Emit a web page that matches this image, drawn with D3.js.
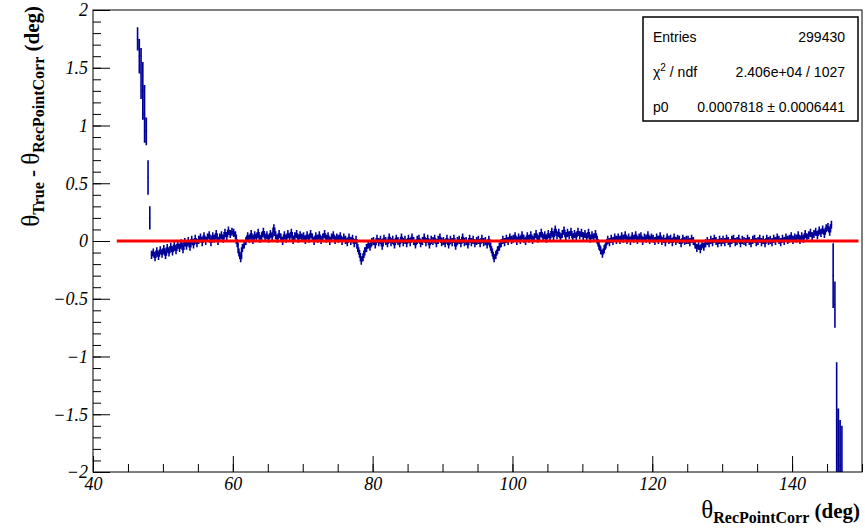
<!DOCTYPE html>
<html>
<head>
<meta charset="utf-8">
<script src="https://cdn.jsdelivr.net/npm/d3@7"></script>
<style>
	body { margin: 0; background: #fff; }
	svg { display: block; }
</style>
</head>
<body>
<svg id="chart" width="865" height="532"></svg>
<script>
// DATA
const xTicks = [40, 60, 80, 100, 120, 140];
const xMinorTicks = d3.range(40, 151, 5);
const yTicks = [-2, -1.5, -1, -0.5, 0, 0.5, 1, 1.5, 2];
const yMinorTicks = d3.range(-20, 21).map(d => d / 10);

// profile bins, 0.25 deg wide, starting at 46.25 deg
const binStart = 46.25;
const binWidth = 0.25;

const spikeLowValues = [1.75, 1.6, 1.45, 1.3, 1.1, 0.95, 0.55, 0.2];
const spikeLowErrors = [0.1, 0.15, 0.22, 0.25, 0.25, 0.12, 0.15, 0.1];

const mainValues = [
	-0.12, -0.1, -0.14, -0.09, -0.13, -0.08, -0.11,
	-0.07, -0.12, -0.06, -0.1, -0.05, -0.09, -0.04, -0.08, -0.03, -0.06, -0.02, -0.07, -0.01, -0.04, 0.0, -0.05, 0.01, -0.03, 0.02, -0.02,
	0.01, 0.03, -0.01, 0.04, 0.0, 0.03, 0.05, -0.01, 0.04, 0.02, 0.06, 0.0, 0.03, 0.05, 0.02, 0.07, 0.04, 0.09, 0.06, 0.08,
	0.07, 0.05, -0.02, -0.1, -0.15, -0.06, -0.03, 0.0, 0.04, 0.02, 0.06, 0.01, 0.05, 0.03, 0.07, 0.02, 0.04, 0.08, 0.03, 0.05,
	0.02, 0.06, 0.04, 0.11, 0.05, 0.02, 0.06, 0.03, 0.0, 0.05, 0.02, 0.06, 0.03, 0.07, 0.01, 0.04, 0.06, 0.02, 0.05, 0.03,
	0.04, 0.01, 0.05, 0.02, 0.06, 0.03, 0.0, 0.04, 0.02, 0.05, 0.01, 0.03, 0.06, 0.02, 0.04, 0.0, 0.03, 0.05, 0.01, 0.03,
	0.02, 0.04, 0.0, 0.03, 0.01, -0.01, 0.03, 0.0, 0.02, -0.02, 0.01, -0.06, -0.11, -0.17, -0.14, -0.09, -0.06, -0.03, -0.05, -0.01,
	0.0, -0.03, 0.02, -0.01, 0.01, -0.04, 0.02, 0.0, -0.02, 0.03, -0.01, 0.01, -0.03, 0.02, 0.0, -0.02, 0.03, -0.01, 0.01, -0.02,
	0.02, -0.01, 0.03, 0.0, -0.03, 0.01, 0.02, -0.02, 0.0, 0.03, -0.01, 0.02, -0.03, 0.01, 0.0, 0.02, -0.02, 0.01, 0.03, -0.01,
	0.0, -0.02, 0.02, -0.03, 0.01, -0.01, 0.02, -0.04, 0.0, 0.01, -0.02, 0.03, -0.01, 0.0, -0.03, 0.02, -0.01, 0.01, -0.02, 0.0,
	0.01, -0.02, 0.02, -0.01, 0.0, -0.03, 0.01, -0.05, -0.1, -0.15, -0.12, -0.08, -0.05, -0.02, 0.01, -0.01, 0.02, 0.0, 0.03, 0.01,
	0.02, 0.04, 0.0, 0.03, 0.01, 0.05, 0.02, 0.0, 0.04, 0.02, 0.05, 0.01, 0.03, 0.06, 0.02, 0.04, 0.07, 0.03, 0.05, 0.02,
	0.06, 0.03, 0.08, 0.04, 0.1, 0.05, 0.07, 0.03, 0.06, 0.09, 0.04, 0.07, 0.05, 0.08, 0.03, 0.06, 0.04, 0.08, 0.05, 0.07,
	0.04, 0.06, 0.03, 0.07, 0.02, 0.05, 0.03, 0.06, 0.01, -0.04, -0.08, -0.11, -0.07, -0.03, 0.01, -0.01, 0.02, 0.0, 0.03, 0.01,
	0.03, 0.01, 0.04, 0.02, 0.05, 0.01, 0.03, 0.0, 0.04, 0.02, 0.05, 0.01, 0.03, 0.04, 0.0, 0.03, 0.02, 0.05, 0.01, 0.03,
	0.02, 0.0, 0.03, 0.01, 0.04, 0.0, 0.02, -0.01, 0.03, 0.01, 0.02, -0.01, 0.03, 0.0, 0.02, 0.01, -0.02, 0.02, 0.0, 0.01,
	0.01, -0.01, 0.02, 0.0, -0.03, -0.06, -0.04, -0.07, -0.03, -0.05, -0.02, 0.0, -0.02, 0.01, -0.01, 0.02, 0.0, -0.02, 0.01, -0.01,
	0.01, -0.01, 0.02, 0.0, -0.02, 0.01, 0.02, -0.01, 0.0, 0.02, -0.02, 0.01, 0.0, -0.01, 0.02, 0.0, -0.02, 0.01, 0.02, -0.01,
	0.0, 0.02, -0.01, 0.01, -0.02, 0.02, 0.0, 0.01, -0.01, 0.02, 0.0, 0.03, 0.01, -0.01, 0.02, 0.0, 0.03, 0.01, 0.02, 0.04,
	0.01, 0.03, 0.02, 0.05, 0.01, 0.04, 0.02, 0.06, 0.03, 0.05, 0.07, 0.04, 0.06, 0.08, 0.05, 0.09, 0.07, 0.1, 0.06, 0.11,
	0.12, 0.08, 0.14
];
const mainError = 0.035;

const spikeHighValues = [-0.3, -0.55, -1.55, -1.85, -1.95, -2.05];
const spikeHighErrors = [0.28, 0.2, 0.5, 0.4, 0.4, 0.45];

// constant fit p0
const fitValue = 0.0007818;
const fitRange = [43.4, 149.5];

const statsRows = [
	["Entries", "299430"],
	["χ2 / ndf", "2.406e+04 / 1027"],
	["p0", "0.0007818 ± 0.0006441"]
];

// LAYOUT
const svg = d3.select('#chart');
const frame = { left: 93, right: 862, top: 10, bottom: 472 };
const x = d3.scaleLinear().domain([40, 150]).range([frame.left, frame.right]);
const y = d3.scaleLinear().domain([-2, 2]).range([frame.bottom, frame.top]);
const tickFont = "'Liberation Serif', 'DejaVu Serif', serif";
const dataColor = "#000099";

svg.append('defs').append('clipPath').attr('id', 'frameClip')
	.append('rect')
	.attr('x', frame.left).attr('y', frame.top)
	.attr('width', frame.right - frame.left).attr('height', frame.bottom - frame.top);

// build all bins
const values = spikeLowValues.concat(mainValues, spikeHighValues);
const errors = spikeLowErrors.concat(mainValues.map(() => mainError), spikeHighErrors);
const bins = values.map((v, i) => ({
	lo: binStart + i * binWidth,
	hi: binStart + (i + 1) * binWidth,
	v: v,
	e: errors[i],
	main: i >= spikeLowValues.length && i < spikeLowValues.length + mainValues.length
}));

// PROFILE
const plot = svg.append('g').attr('clip-path', 'url(#frameClip)');

// error bars and bin contents
const p = d3.path();
bins.forEach(b => {
	const xc = x((b.lo + b.hi) / 2);
	p.moveTo(x(b.lo), y(b.v));
	p.lineTo(x(b.hi), y(b.v));
	p.moveTo(xc, y(b.v - b.e));
	p.lineTo(xc, y(b.v + b.e));
});
plot.append('path')
	.attr('d', p.toString())
	.attr('fill', 'none')
	.attr('stroke', dataColor)
	.attr('stroke-width', 1.6);

// the dense bins of the central region read as one jagged line
const stepLine = d3.line()
	.x(b => x((b.lo + b.hi) / 2))
	.y(b => y(b.v))
	.curve(d3.curveStep);
plot.append('path')
	.datum(bins.filter(b => b.main))
	.attr('d', stepLine)
	.attr('fill', 'none')
	.attr('stroke', dataColor)
	.attr('stroke-width', 1.6);

// FIT
plot.append('line')
	.attr('x1', x(fitRange[0])).attr('x2', x(fitRange[1]))
	.attr('y1', y(fitValue)).attr('y2', y(fitValue))
	.attr('stroke', '#ff0000')
	.attr('stroke-width', 3);

// AXES
function styleAxis(g) {
	g.select('.domain').remove();
	g.selectAll('.tick line').attr('stroke', '#000').attr('stroke-width', 1);
	g.selectAll('.tick text')
		.attr('fill', '#000')
		.style('font-family', tickFont)
		.style('font-style', 'italic')
		.style('font-size', '18px');
}

const fmt = d3.format('');

svg.append('g')
	.attr('transform', `translate(0,${frame.bottom})`)
	.call(d3.axisBottom(x).tickValues(xMinorTicks).tickSize(-8).tickFormat(''))
	.call(styleAxis);
svg.append('g')
	.attr('transform', `translate(0,${frame.bottom})`)
	.call(d3.axisBottom(x).tickValues(xTicks).tickSize(-16).tickPadding(5).tickFormat(fmt))
	.call(styleAxis);

svg.append('g')
	.attr('transform', `translate(${frame.left},0)`)
	.call(d3.axisLeft(y).tickValues(yMinorTicks).tickSize(-8).tickFormat(''))
	.call(styleAxis);
svg.append('g')
	.attr('transform', `translate(${frame.left},0)`)
	.call(d3.axisLeft(y).tickValues(yTicks).tickSize(-17).tickPadding(5).tickFormat(fmt))
	.call(styleAxis);

// frame border
svg.append('rect')
	.attr('x', frame.left).attr('y', frame.top)
	.attr('width', frame.right - frame.left).attr('height', frame.bottom - frame.top)
	.attr('fill', 'none')
	.attr('stroke', '#000')
	.attr('stroke-width', 1);

// TITLES
function addTitle(text, subscript) {
	text.append('tspan').text('θ')
		.style('font-size', '25px');
	text.append('tspan').text(subscript)
		.attr('dy', 5)
		.style('font-size', '16px')
		.style('font-weight', 'bold');
	return text;
}

const xTitle = svg.append('text')
	.attr('x', 860).attr('y', 518)
	.attr('text-anchor', 'end')
	.style('font-family', tickFont);
addTitle(xTitle, 'RecPointCorr');
xTitle.append('tspan').text(' (deg)')
	.attr('dy', -5)
	.style('font-size', '21px')
	.style('font-weight', 'bold');

const yTitle = svg.append('text')
	.attr('transform', 'translate(39,6) rotate(-90)')
	.attr('text-anchor', 'end')
	.style('font-family', tickFont);
addTitle(yTitle, 'True');
yTitle.append('tspan').text(' - ')
	.attr('dy', -5)
	.style('font-size', '21px')
	.style('font-weight', 'bold');
addTitle(yTitle, 'RecPointCorr');
yTitle.append('tspan').text(' (deg)')
	.attr('dy', -5)
	.style('font-size', '21px')
	.style('font-weight', 'bold');

// STATS BOX
const box = { x: 643, y: 17, w: 215, h: 104 };
svg.append('rect')
	.attr('x', box.x).attr('y', box.y)
	.attr('width', box.w).attr('height', box.h)
	.attr('fill', '#fff')
	.attr('stroke', '#000')
	.attr('stroke-width', 1.5);

const rowY = d3.scalePoint().domain(statsRows.map(r => r[0])).range([42, 112]);
statsRows.forEach(r => {
	const label = svg.append('text')
		.attr('x', box.x + 10).attr('y', rowY(r[0]))
		.style('font-family', "'Liberation Sans', Arial, sans-serif")
		.style('font-size', '14px');
	if (r[0].startsWith('χ2')) {
		label.append('tspan').text('χ');
		label.append('tspan').text('2').attr('dy', -6).style('font-size', '10px');
		label.append('tspan').text(' / ndf').attr('dy', 6);
	} else {
		label.text(r[0]);
	}
	svg.append('text')
		.attr('x', box.x + box.w - 13).attr('y', rowY(r[0]))
		.attr('text-anchor', 'end')
		.style('font-family', "'Liberation Sans', Arial, sans-serif")
		.style('font-size', '14px')
		.text(r[1]);
});
</script>
</body>
</html>
